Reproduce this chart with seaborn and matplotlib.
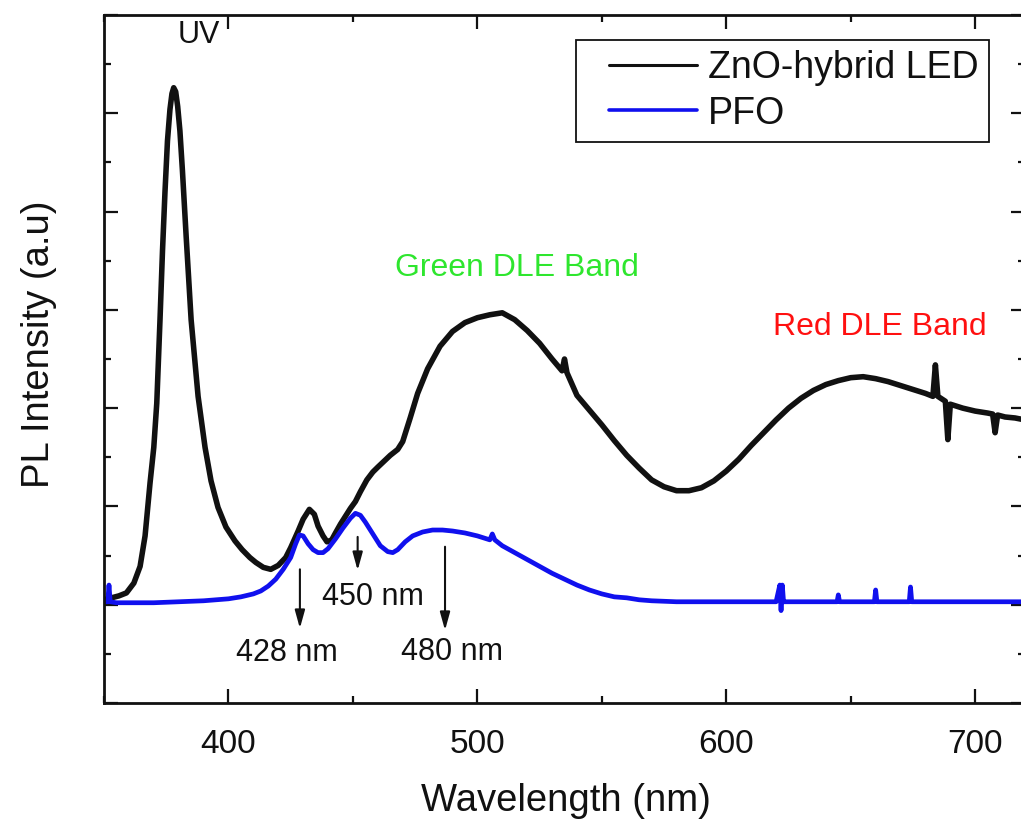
import numpy as np
import pandas as pd
import matplotlib
matplotlib.use("Agg")
import matplotlib.pyplot as plt
import seaborn as sns
from matplotlib.lines import Line2D
from matplotlib.legend_handler import HandlerLine2D
from matplotlib.ticker import MultipleLocator, NullFormatter

# ---- data ----
zno_wl = [350, 353, 356, 359, 362, 364.5, 366.5, 368.5, 370, 371.2, 372.5, 373.5, 374.5,
          375.5, 376.5, 377.3, 378, 378.8, 379.6, 380.5, 381.5, 383, 385, 387.8, 390.6,
          393, 395.8, 399, 402.6, 405.5, 408.6, 411, 414, 417, 420, 423, 425, 428, 430,
          432.5, 434.5, 436, 438, 439.6, 441.5, 443, 445, 447, 449, 451, 453, 455.6, 458,
          460, 462.5, 465, 468, 470, 473, 476, 480, 485, 490, 495, 500, 505, 510, 515,
          520, 525, 530, 534, 535, 536, 540, 545, 550, 555, 560, 565, 570, 575, 580,
          585, 590, 595, 600, 605, 610, 615, 620, 625, 630, 635, 640, 645, 650, 655,
          660, 665, 670, 675, 680, 683, 684, 685, 688, 689, 690, 695, 700, 705, 707,
          708, 709, 712, 716, 720]
zno_int = [0.05, 0.07, 0.09, 0.12, 0.22, 0.39, 0.7, 1.24, 1.6, 2.05, 2.9, 3.6, 4.2,
           4.72, 5.04, 5.2, 5.26, 5.22, 5.07, 4.82, 4.42, 3.75, 2.9, 2.12, 1.6,
           1.26, 0.99, 0.79, 0.65, 0.56, 0.48, 0.43, 0.38, 0.36, 0.4, 0.48, 0.58, 0.75, 0.87,
           0.97, 0.92, 0.8, 0.7, 0.64, 0.66, 0.73, 0.82, 0.9, 0.98, 1.05, 1.15, 1.27, 1.35,
           1.4, 1.46, 1.52, 1.58, 1.66, 1.9, 2.15, 2.4, 2.63, 2.78, 2.87, 2.92, 2.95, 2.97, 2.9,
           2.79, 2.66, 2.5, 2.38, 2.5, 2.36, 2.13, 1.98, 1.83, 1.67, 1.52, 1.39, 1.27, 1.2, 1.16,
           1.16, 1.19, 1.26, 1.36, 1.48, 1.62, 1.75, 1.88, 2.0, 2.1, 2.18, 2.24, 2.28, 2.31, 2.32,
           2.3, 2.27, 2.23, 2.19, 2.15, 2.12, 2.44, 2.12, 2.07, 1.68, 2.04, 2.0, 1.97, 1.95, 1.94,
           1.75, 1.93, 1.91, 1.9, 1.88]

pfo_wl = [350, 351.5, 352, 352.5, 355, 360, 370, 380, 390, 400, 405, 410, 413, 416,
          419, 422, 425, 427, 428.5, 430, 432, 434, 436, 438, 440, 443, 446, 449,
          451, 453, 455, 458, 461, 464, 466, 468, 471, 474, 478, 482, 486, 490,
          495, 500, 505, 506, 507, 510, 515, 520, 525, 530, 535, 540, 545, 550,
          555, 560, 565, 570, 580, 590, 600, 610, 620, 621.5, 622, 622.5, 623, 624,
          630, 640, 644.5, 645, 645.5, 650, 659.5, 660, 660.5, 665, 673.5, 674,
          674.5, 680, 690, 700, 710, 720]
pfo_int = [0.03, 0.03, 0.2, 0.03, 0.02, 0.02, 0.02, 0.03, 0.04, 0.06, 0.08, 0.11, 0.14, 0.19,
           0.26, 0.36, 0.48, 0.62, 0.71, 0.7, 0.62, 0.56, 0.53, 0.53, 0.57, 0.67, 0.78, 0.88,
           0.93, 0.91, 0.84, 0.72, 0.6, 0.54, 0.53, 0.56, 0.64, 0.7, 0.74, 0.76, 0.76, 0.75,
           0.73, 0.7, 0.66, 0.72, 0.66, 0.6, 0.53, 0.46, 0.39, 0.32, 0.26, 0.2, 0.15, 0.11,
           0.08, 0.07, 0.05, 0.04, 0.03, 0.03, 0.03, 0.03, 0.03, 0.2, -0.06, 0.2, 0.03, 0.03,
           0.03, 0.03, 0.03, 0.1, 0.03, 0.03, 0.03, 0.15, 0.03, 0.03, 0.03, 0.18,
           0.03, 0.03, 0.03, 0.03, 0.03, 0.03]

series_names = ["ZnO-hybrid LED", "PFO"]
series_colors = ["#111111", "#1010ee"]

arrow_wl = [428.7, 451.9, 487.0]
arrow_labels = ["428 nm", "450 nm", "480 nm"]

# ---- figure ----
sns.set_theme(style="ticks")
plt.rcParams['font.family'] = ['Liberation Sans', 'DejaVu Sans']
plt.rcParams['text.color'] = '#111111'
plt.rcParams['axes.labelcolor'] = '#111111'
plt.rcParams['xtick.color'] = '#111111'
plt.rcParams['ytick.color'] = '#111111'

fig = plt.figure(figsize=(10.21, 8.25), dpi=100)
ax = fig.add_axes([104 / 1021, 122 / 825, 921 / 1021, (703 - 15) / 825])

df_zno = pd.DataFrame({"wl": zno_wl, "I": zno_int, "s": series_names[0]})
df_pfo = pd.DataFrame({"wl": pfo_wl, "I": pfo_int, "s": series_names[1]})

sns.lineplot(data=df_zno, x="wl", y="I", color=series_colors[0], lw=4.0,
             estimator=None, sort=False, ax=ax, legend=False)
sns.lineplot(data=df_pfo, x="wl", y="I", color=series_colors[1], lw=3.4,
             estimator=None, sort=False, ax=ax, legend=False)

ax.set_xlim(350, 720)
ax.set_ylim(-1, 6)

ax.xaxis.set_major_locator(MultipleLocator(100))
ax.xaxis.set_minor_locator(MultipleLocator(50))
ax.yaxis.set_major_locator(MultipleLocator(1))
ax.yaxis.set_minor_locator(MultipleLocator(0.5))
ax.yaxis.set_major_formatter(NullFormatter())

ax.tick_params(which="both", direction="in", top=True, right=True,
               width=1.6, color="#111111")
ax.tick_params(which="major", length=10, labelsize=24, pad=19)
ax.tick_params(which="minor", length=5)
for sp in ax.spines.values():
    sp.set_linewidth(2.0)
    sp.set_color("#111111")

ax.set_xlabel("Wavelength (nm)", fontsize=27.5)
ax.set_ylabel("PL Intensity (a.u)", fontsize=27.5)
ax.xaxis.set_label_coords(0.5016, -0.116)
ax.yaxis.set_label_coords(-0.051, 0.522)

# annotations
ax.text(388, 5.8, "UV", fontsize=22, ha="center", va="center")
ax.text(516, 3.43, "Green DLE Band", fontsize=23, ha="center", va="center", color="#2ee62e")
ax.text(661.5, 2.83, "Red DLE Band", fontsize=23, ha="center", va="center", color="#ff1010")

arrow_y = [(0.36, -0.24), (0.69, 0.35), (0.59, -0.26)]
text_pos = [(423.5, -0.49), (458, 0.08), (490, -0.48)]
for wl, (y0, y1), lab, (tx, ty) in zip(arrow_wl, arrow_y, arrow_labels, text_pos):
    ax.annotate("", xy=(wl, y1), xytext=(wl, y0),
                arrowprops=dict(arrowstyle="-|>,head_length=0.9,head_width=0.25",
                                color="#111111", lw=1.5, shrinkA=0, shrinkB=0))
    ax.text(tx, ty, lab, fontsize=22, ha="center", va="center")

handles = [Line2D([], [], color=series_colors[0], lw=2.2),
           Line2D([], [], color=series_colors[1], lw=2.6)]
leg = ax.legend(handles, series_names, loc="upper right",
                bbox_to_anchor=(989 / 1021, 1 - 40 / 825), bbox_transform=fig.transFigure,
                fontsize=27, frameon=True, fancybox=False, framealpha=1,
                borderpad=0.27, labelspacing=0.25, handlelength=2.95, handletextpad=0.3,
                borderaxespad=0,
                handler_map={Line2D: HandlerLine2D(xpad=0.6)})
leg.get_frame().set_edgecolor("#111111")
leg.get_frame().set_linewidth(1.3)

fig.savefig("out.png", dpi=100)
